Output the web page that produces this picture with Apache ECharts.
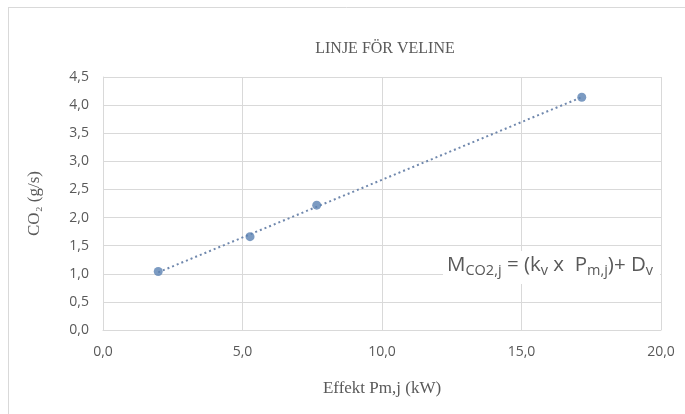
<!DOCTYPE html>
<html>
<head>
<meta charset="utf-8">
<script src="https://cdn.jsdelivr.net/npm/echarts@6/dist/echarts.min.js"></script>
<style>
  html, body { margin: 0; padding: 0; background: #fff; }
  #chart { width: 685px; height: 414px; }
</style>
</head>
<body>
<div id="chart"></div>
<script>
// Measured points: output power (kW) and CO2 flow (g/s)
const effektKW = [1.98, 5.27, 7.66, 17.16];
const co2GramPerSec = [1.04, 1.66, 2.22, 4.14];

const xTicks = [0, 5, 10, 15, 20];
const yTicks = [0, 0.5, 1, 1.5, 2, 2.5, 3, 3.5, 4, 4.5];

// Least-squares linear trendline over the measured range
function linearFit(xs, ys) {
  const n = xs.length;
  const mx = xs.reduce((a, b) => a + b, 0) / n;
  const my = ys.reduce((a, b) => a + b, 0) / n;
  let sxy = 0, sxx = 0;
  for (let i = 0; i < n; i++) {
    sxy += (xs[i] - mx) * (ys[i] - my);
    sxx += (xs[i] - mx) * (xs[i] - mx);
  }
  const k = sxy / sxx;
  return { k, d: my - k * mx };
}
const fit = linearFit(effektKW, co2GramPerSec);
const xMin = Math.min(...effektKW), xMax = Math.max(...effektKW);
const trend = [[xMin, fit.k * xMin + fit.d], [xMax, fit.k * xMax + fit.d]];

const fmt = v => v.toFixed(1).replace('.', ',');
const grey = '#595959';
const gridColor = '#d9d9d9';
const sans = '"Open Sans", "Liberation Sans", sans-serif';
const serif = '"Liberation Serif", "DejaVu Serif", serif';

const chart = echarts.init(document.getElementById('chart'));
chart.setOption({
  animation: false,
  backgroundColor: '#ffffff',
  title: {
    text: 'LINJE FÖR VELINE',
    left: 380, top: 36, textAlign: 'center',
    textStyle: { fontFamily: serif, fontSize: 16, fontWeight: 'normal', color: grey }
  },
  grid: { left: 103, right: 24, top: 77, bottom: 84 },
  xAxis: {
    type: 'value', min: xTicks[0], max: xTicks[xTicks.length - 1], interval: 5,
    name: 'Effekt Pm,j (kW)', nameLocation: 'middle', nameGap: 50,
    nameTextStyle: { fontFamily: serif, fontSize: 17, color: grey },
    axisLine: { show: true, lineStyle: { color: gridColor } },
    axisTick: { show: false },
    axisLabel: { formatter: fmt, fontFamily: sans, fontSize: 14, color: grey, margin: 15 },
    splitLine: { show: true, lineStyle: { color: gridColor, width: 1 } }
  },
  yAxis: {
    type: 'value', min: yTicks[0], max: yTicks[yTicks.length - 1], interval: 0.5,
    name: 'CO₂ (g/s)', nameLocation: 'middle', nameGap: 60, nameRotate: 90,
    nameTextStyle: { fontFamily: serif, fontSize: 17, color: grey },
    axisLine: { show: true, lineStyle: { color: gridColor } },
    axisTick: { show: false },
    axisLabel: { formatter: fmt, fontFamily: sans, fontSize: 14, color: grey, margin: 14 },
    splitLine: { show: true, lineStyle: { color: gridColor, width: 1 } }
  },
  series: [
    {
      name: 'Trendlinje', type: 'line', data: trend, symbol: 'none',
      lineStyle: { color: '#7088ad', width: 2, type: [2, 3] }, z: 2
    },
    {
      name: 'CO2', type: 'scatter',
      data: effektKW.map((x, i) => [x, co2GramPerSec[i]]),
      symbolSize: 9, itemStyle: { color: '#5b82b3' }, z: 3
    }
  ],
  graphic: [
    // Chart frame edges
    { type: 'line', shape: { x1: 8, y1: 7.5, x2: 685, y2: 7.5 }, style: { stroke: gridColor, lineWidth: 1 } },
    { type: 'line', shape: { x1: 8.5, y1: 7, x2: 8.5, y2: 414 }, style: { stroke: gridColor, lineWidth: 1 } },
    // Equation label with white backing
    {
      type: 'rect', shape: { x: 443, y: 251, width: 217, height: 33 },
      style: { fill: '#ffffff' }, z: 10
    },
    {
      type: 'text', left: 447, top: 255, z: 11,
      style: {
        text: 'M{s|CO2,j} = (k{s|v} x  P{s|m,j})+ D{s|v}',
        fontFamily: sans, fontSize: 20.5, fill: grey,
        rich: { s: { fontFamily: sans, fontSize: 14.5, fill: grey, padding: [11, 0, 0, 0] } }
      }
    }
  ]
});
</script>
</body>
</html>
